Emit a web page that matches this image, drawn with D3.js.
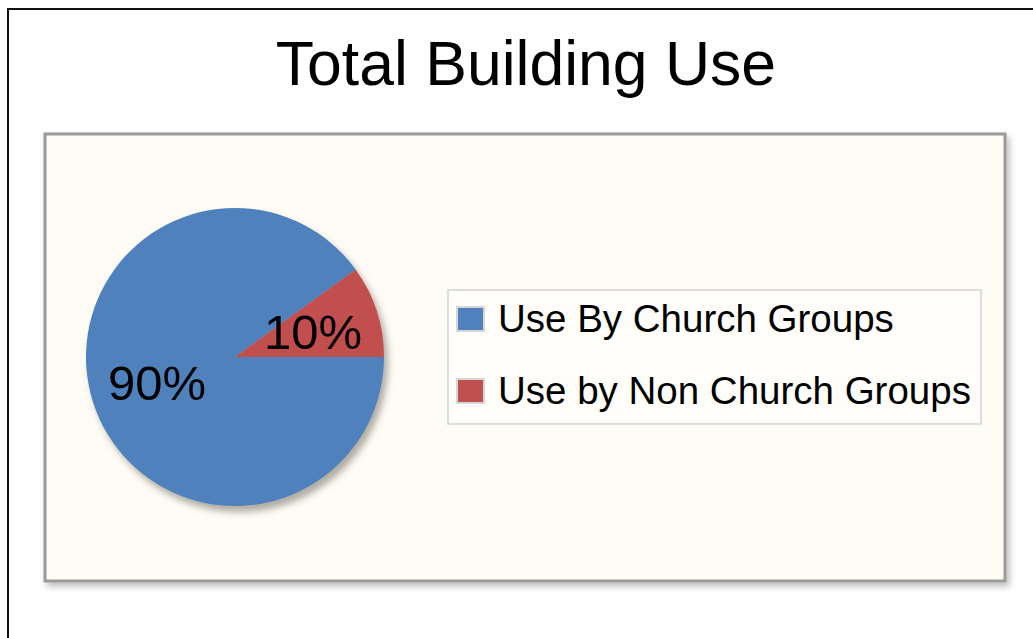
<!DOCTYPE html>
<html>
<head>
<meta charset="utf-8">
<script src="https://cdn.jsdelivr.net/npm/d3@7"></script>
<style>
  html, body { margin: 0; padding: 0; background: #ffffff; }
  svg { display: block; font-family: "Liberation Sans", Arial, sans-serif; }
</style>
</head>
<body>
<svg id="chart" width="1033" height="638"></svg>
<script>
// Building use shares
const categories = ["Use By Church Groups", "Use by Non Church Groups"];
const values = [90, 10];
const valueLabels = ["90%", "10%"];
const colors = ["#4f81bd", "#c0504d"];
const chartTitle = "Total Building Use";

const svg = d3.select("#chart");
const W = 1033, H = 638;

const defs = svg.append("defs");
const pieShadow = defs.append("filter").attr("id", "pieShadow")
  .attr("x", "-20%").attr("y", "-20%").attr("width", "140%").attr("height", "140%");
pieShadow.append("feDropShadow")
  .attr("dx", 4).attr("dy", 6).attr("stdDeviation", 3.5)
  .attr("flood-color", "#6e6a60").attr("flood-opacity", 0.55);

const panelShadow = defs.append("filter").attr("id", "panelShadow")
  .attr("x", "-5%").attr("y", "-5%").attr("width", "110%").attr("height", "115%");
panelShadow.append("feDropShadow")
  .attr("dx", 3).attr("dy", 4).attr("stdDeviation", 3)
  .attr("flood-color", "#000").attr("flood-opacity", 0.25);

// Outer frame: top and left edges only
svg.append("path")
  .attr("d", d3.line()([[8, H], [8, 9], [W, 9]]))
  .attr("fill", "none").attr("stroke", "#111").attr("stroke-width", 2);

// Title
svg.append("text")
  .attr("x", 526).attr("y", 85)
  .attr("text-anchor", "middle")
  .attr("font-size", 62.5)
  .attr("fill", "#000")
  .text(chartTitle);

// Plot panel
const panel = { x: 45, y: 134, w: 960, h: 447 };
svg.append("rect")
  .attr("x", panel.x).attr("y", panel.y)
  .attr("width", panel.w).attr("height", panel.h)
  .attr("fill", "#fffcf5")
  .attr("stroke", "#9a9a9a").attr("stroke-width", 3)
  .attr("filter", "url(#panelShadow)");

// Pie: the large slice runs from 3 o'clock all the way round,
// leaving the small slice just above the horizontal
const cx = 235, cy = 357, R = 149;
const arcs = d3.pie().sort(null)
  .startAngle(Math.PI / 2 - 2 * Math.PI)
  .endAngle(Math.PI / 2)(values);

const arc = d3.arc().innerRadius(0).outerRadius(R);
const labelArc = d3.arc().innerRadius(0).outerRadius(R * 1.1);

const pieG = svg.append("g").attr("transform", `translate(${cx},${cy})`);
pieG.append("g").attr("filter", "url(#pieShadow)")
  .selectAll("path").data(arcs).join("path")
  .attr("d", arc)
  .attr("fill", (d, i) => colors[i]);

pieG.selectAll("text.lbl").data(arcs).join("text")
  .attr("class", "lbl")
  .attr("transform", d => `translate(${labelArc.centroid(d)})`)
  .attr("text-anchor", "middle")
  .attr("dy", "0.36em")
  .attr("font-size", 49)
  .attr("fill", "#000")
  .text((d, i) => valueLabels[i]);

// Legend
const legend = { x: 448, y: 290, w: 533, h: 134 };
svg.append("rect")
  .attr("x", legend.x).attr("y", legend.y)
  .attr("width", legend.w).attr("height", legend.h)
  .attr("fill", "#fffefb")
  .attr("stroke", "#d2d2d2").attr("stroke-width", 1.5);

const rowY = d3.scalePoint().domain(categories).range([319, 391]);
const item = svg.append("g").selectAll("g").data(categories).join("g")
  .attr("transform", d => `translate(0,${rowY(d)})`);
item.append("rect")
  .attr("x", 457).attr("y", -12)
  .attr("width", 27).attr("height", 24)
  .attr("fill", (d, i) => colors[i])
  .attr("stroke", "#d6d6d6").attr("stroke-width", 2);
item.append("text")
  .attr("x", 498).attr("y", 13)
  .attr("font-size", 38.5)
  .attr("fill", "#000")
  .text(d => d);
</script>
</body>
</html>
